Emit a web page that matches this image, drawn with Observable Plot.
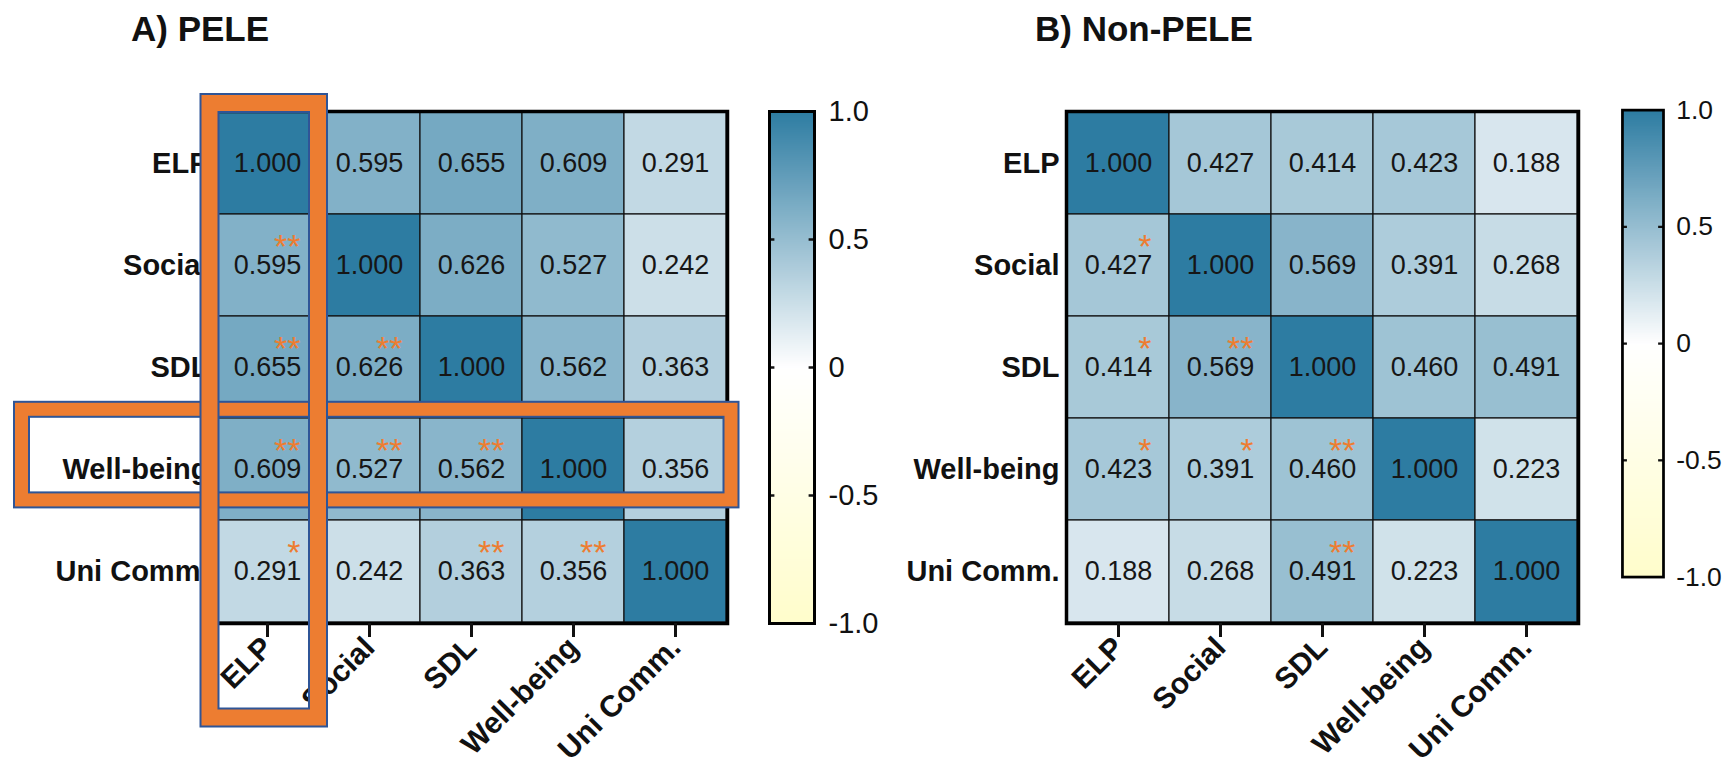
<!DOCTYPE html>
<html>
<head>
<meta charset="utf-8">
<script src="https://cdn.jsdelivr.net/npm/d3@7"></script>
<script src="https://cdn.jsdelivr.net/npm/@observablehq/plot@0.6"></script>
<style>
  body { margin: 0; background: #fff; }
  #chart { position: relative; width: 1736px; height: 766px; overflow: hidden;
           font-family: "Liberation Sans", Arial, sans-serif; background: #fff; }
  .title { position: absolute; top: 11px; font-weight: bold; font-size: 35px; line-height: 35px; color: #111; white-space: nowrap; }
  .layer { position: absolute; }
  .layer svg { overflow: visible; }
  .heat g[aria-label="x-axis tick label"], .heat g[aria-label="y-axis tick label"] { font-weight: bold; }
</style>
</head>
<body>
<div id="chart"></div>
<script>
// Variables shown on both axes of each correlation matrix
const variables = ["ELP", "Social", "SDL", "Well-being", "Uni Comm."];

// A) PELE correlations (rows follow `variables`)
const peleValues = [
  [1.000, 0.595, 0.655, 0.609, 0.291],
  [0.595, 1.000, 0.626, 0.527, 0.242],
  [0.655, 0.626, 1.000, 0.562, 0.363],
  [0.609, 0.527, 0.562, 1.000, 0.356],
  [0.291, 0.242, 0.363, 0.356, 1.000]
];
const peleStars = [
  ["",   "",   "",   "",   ""],
  ["**", "",   "",   "",   ""],
  ["**", "**", "",   "",   ""],
  ["**", "**", "**", "",   ""],
  ["*",  "",   "**", "**", ""]
];

// B) Non-PELE correlations
const nonPeleValues = [
  [1.000, 0.427, 0.414, 0.423, 0.188],
  [0.427, 1.000, 0.569, 0.391, 0.268],
  [0.414, 0.569, 1.000, 0.460, 0.491],
  [0.423, 0.391, 0.460, 1.000, 0.223],
  [0.188, 0.268, 0.491, 0.223, 1.000]
];
const nonPeleStars = [
  ["",  "",   "",   "", ""],
  ["*", "",   "",   "", ""],
  ["*", "**", "",   "", ""],
  ["*", "*",  "**", "", ""],
  ["",  "",   "**", "", ""]
];

// Colour bar
const colorTicks = [1, 0.5, 0, -0.5, -1];
const colorDomain = [-1, 0, 1];
const colorRange = ["#FFFDCB", "#FFFFFF", "#2D7CA2"];

// Highlighted column and row in panel A
const highlightColumn = "ELP";
const highlightRow = "Well-being";

const FONT = "'Liberation Sans', Arial, sans-serif";
const ORANGE = "#ED7D31";
const OUTLINE = "#2F5597";

const colorScale = {type: "linear", domain: colorDomain, range: colorRange};

function toCells(values, stars) {
  return values.flatMap((row, i) => row.map((v, j) => ({
    row: variables[i], col: variables[j], value: v, stars: stars[i][j]
  })));
}

function heatmap(cells, {marginLeft, marginRight, highlight}) {
  const marks = [
    Plot.cell(cells, {x: "col", y: "row", fill: "value", stroke: "#111", strokeWidth: 1.2}),
    Plot.frame({stroke: "#000", strokeWidth: 3.5}),
    Plot.text(cells, {x: "col", y: "row", text: d => d.value.toFixed(3), fontSize: 27, fill: "#161616"}),
    Plot.text(cells.filter(d => d.stars), {
      x: "col", y: "row", text: "stars", fontSize: 34, fill: ORANGE,
      textAnchor: "end", dx: 33, dy: -18
    }),
    Plot.axisX({tickSize: 14, strokeWidth: 3, tickRotate: -45, fontSize: 30, tickPadding: 5, label: null}),
    Plot.axisY({tickSize: 0, tickPadding: 7, fontSize: 29, label: null})
  ];
  if (highlight) {
    // row band first, column band drawn over it
    const rowBox = {y: d => d, fill: "none", insetLeft: -193.5, insetRight: -4, insetTop: -8.7, insetBottom: 20.1};
    const colBox = {x: d => d, fill: "none", insetLeft: -6.5, insetRight: 0, insetTop: -8, insetBottom: -94.5};
    marks.push(
      Plot.cell([highlightRow], {...rowBox, stroke: OUTLINE, strokeWidth: 17}),
      Plot.cell([highlightRow], {...rowBox, stroke: ORANGE, strokeWidth: 13}),
      Plot.cell([highlightColumn], {...colBox, stroke: OUTLINE, strokeWidth: 20}),
      Plot.cell([highlightColumn], {...colBox, stroke: ORANGE, strokeWidth: 16})
    );
  }
  const svg = Plot.plot({
    width: 868, height: 766,
    marginLeft, marginRight, marginTop: 111, marginBottom: 143,
    x: {domain: variables, padding: 0},
    y: {domain: variables, padding: 0},
    color: colorScale,
    style: {fontFamily: FONT, background: "transparent", color: "#111"},
    marks
  });
  svg.classList.add("heat");
  return svg;
}

function colorbar() {
  return Plot.plot({
    width: 45 + 80, height: 512 + 30,
    marginLeft: 0, marginRight: 80, marginTop: 15, marginBottom: 15,
    x: {domain: [0, 1], axis: null},
    y: {domain: [-1, 1], axis: null},
    color: colorScale,
    style: {fontFamily: FONT, background: "transparent", color: "#111"},
    marks: [
      Plot.raster({x1: 0, x2: 1, y1: -1, y2: 1, width: 1, height: 256, fill: (x, y) => y}),
      Plot.ruleY(colorTicks.filter(t => Math.abs(t) < 1), {x1: 0, x2: 0.12, strokeWidth: 2.5}),
      Plot.ruleY(colorTicks.filter(t => Math.abs(t) < 1), {x1: 0.88, x2: 1, strokeWidth: 2.5}),
      Plot.frame({stroke: "#000", strokeWidth: 3}),
      Plot.axisY(colorTicks, {
        anchor: "right", tickSize: 0, tickPadding: 14, fontSize: 29, label: null,
        tickFormat: d => d === 0 ? "0" : d.toFixed(1)
      })
    ]
  });
}

const chart = document.getElementById("chart");
function place(node, left, top) {
  const wrap = document.createElement("div");
  wrap.className = "layer";
  wrap.style.left = left + "px";
  wrap.style.top = top + "px";
  wrap.appendChild(node);
  chart.appendChild(wrap);
}
function title(text, left) {
  const t = document.createElement("div");
  t.className = "title";
  t.style.left = left + "px";
  t.textContent = text;
  chart.appendChild(t);
}

place(heatmap(toCells(peleValues, peleStars), {marginLeft: 215, marginRight: 141, highlight: true}), 0, 0);
place(colorbar(), 769, 96);
place(heatmap(toCells(nonPeleValues, nonPeleStars), {marginLeft: 198, marginRight: 158, highlight: false}), 868, 0);
place(colorbar(), 1622, 96);
title("A) PELE", 131);
title("B) Non-PELE", 1035);
</script>
</body>
</html>
